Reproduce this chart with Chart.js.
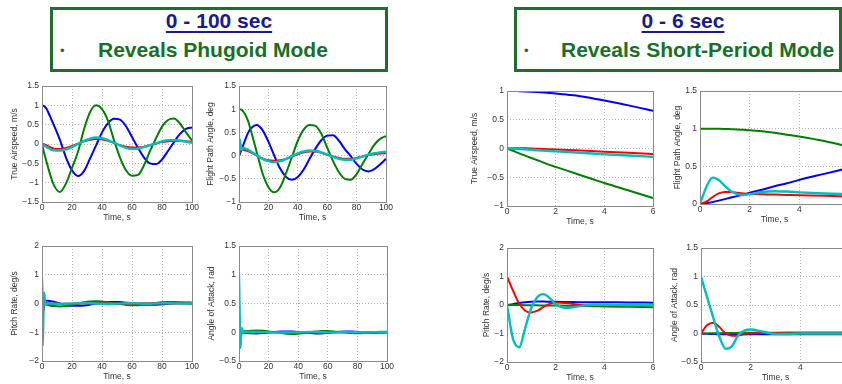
<!DOCTYPE html>
<html>
<head>
<meta charset="utf-8">
<script src="https://cdn.jsdelivr.net/npm/chart.js@4.4.0/dist/chart.umd.min.js"></script>
<style>
html, body { margin: 0; padding: 0; background: #fff; width: 842px; height: 384px; overflow: hidden; font-family: "Liberation Sans", Arial, sans-serif; }
.box { position: absolute; border: 3px solid #1f6e2c; box-sizing: border-box; }
.ttl { position: absolute; color: #1b1b8a; font-weight: bold; font-size: 21px; line-height: 21px; text-decoration: underline; text-decoration-thickness: 2px; text-underline-offset: 3px; white-space: nowrap; text-align: center; }
.sub { position: absolute; color: #177026; font-weight: bold; font-size: 21px; line-height: 21px; white-space: nowrap; }
.dot { position: absolute; color: #177026; font-size: 13px; line-height: 13px; }
.plot { position: absolute; }
</style>
</head>
<body>
<div class="box" style="left:50px;top:7px;width:338px;height:65px"></div>
<div class="ttl" style="left:50px;top:10px;width:338px">0 - 100 sec</div>
<div class="dot" style="left:60px;top:44px">•</div>
<div class="sub" style="left:98px;top:39px">Reveals Phugoid Mode</div>

<div class="box" style="left:514px;top:7px;width:328px;height:65px"></div>
<div class="ttl" style="left:583px;top:10px;width:200px">0 - 6 sec</div>
<div class="dot" style="left:524px;top:44px">•</div>
<div class="sub" style="left:561px;top:39px">Reveals Short-Period Mode</div>

<div class="plot" style="left:0px;top:80px;width:200px;height:152px"><canvas id="c1"></canvas></div>
<div class="plot" style="left:197px;top:80px;width:197px;height:152px"><canvas id="c2"></canvas></div>
<div class="plot" style="left:0px;top:240px;width:200px;height:151px"><canvas id="c3"></canvas></div>
<div class="plot" style="left:197px;top:240px;width:198px;height:151px"><canvas id="c4"></canvas></div>
<div class="plot" style="left:465px;top:85px;width:196px;height:151px"><canvas id="c5"></canvas></div>
<div class="plot" style="left:658px;top:85px;width:199px;height:149px"><canvas id="c6"></canvas></div>
<div class="plot" style="left:465px;top:242px;width:196px;height:150px"><canvas id="c7"></canvas></div>
<div class="plot" style="left:659px;top:242px;width:199px;height:150px"><canvas id="c8"></canvas></div>

<script>
// time bases
const tLong = [0, 0.5, 1, 1.5, 2, 3, 4, 6, 8, 12, 16, 20, 24, 28, 32, 36, 40, 44, 48, 52, 56, 60, 64, 68, 72, 76, 80, 84, 88, 92, 96, 100];
const tShort = [0, 0.25, 0.5, 0.75, 1, 1.25, 1.5, 1.75, 2, 2.5, 3, 3.5, 4, 5, 6];

// series: blue = initial u, green = initial gamma, red = initial q, cyan = initial alpha
const seriesNames = ['u(0) = 1', 'gamma(0) = 1', 'q(0) = 1', 'alpha(0) = 1'];

// 0 - 100 s : true airspeed
const uLongBlue  = [1.0, 0.999, 0.988, 0.975, 0.958, 0.91, 0.835, 0.655, 0.48, 0.1, -0.35, -0.68, -0.83, -0.7, -0.38, -0.04, 0.3, 0.54, 0.65, 0.63, 0.46, 0.18, -0.1, -0.35, -0.5, -0.52, -0.4, -0.18, 0.05, 0.26, 0.39, 0.43];
const uLongGreen = [0, -0.085, -0.165, -0.245, -0.32, -0.46, -0.6, -0.86, -1.07, -1.24, -1.02, -0.62, -0.2, 0.38, 0.82, 1.0, 0.9, 0.6, 0.1, -0.35, -0.68, -0.82, -0.8, -0.55, -0.18, 0.15, 0.45, 0.62, 0.66, 0.53, 0.3, 0.09];
const uLongRed   = [0, 0.004, 0.0, -0.008, -0.016, -0.035, -0.055, -0.095, -0.12, -0.13, -0.1, -0.05, 0.01, 0.07, 0.11, 0.13, 0.12, 0.08, 0.03, -0.03, -0.07, -0.09, -0.09, -0.07, -0.03, 0.01, 0.05, 0.07, 0.08, 0.08, 0.07, 0.06];
const uLongCyan  = [0, -0.008, -0.022, -0.037, -0.05, -0.075, -0.1, -0.145, -0.165, -0.17, -0.14, -0.08, 0, 0.08, 0.14, 0.17, 0.15, 0.1, 0.03, -0.04, -0.1, -0.13, -0.12, -0.08, -0.03, 0.02, 0.07, 0.1, 0.1, 0.09, 0.06, 0.03];

// 0 - 100 s : flight path angle
const gLongBlue  = [0, 0.025, 0.065, 0.105, 0.15, 0.235, 0.32, 0.48, 0.58, 0.66, 0.55, 0.3, 0.0, -0.28, -0.46, -0.52, -0.46, -0.3, -0.07, 0.15, 0.33, 0.43, 0.44, 0.32, 0.14, -0.01, -0.18, -0.3, -0.34, -0.29, -0.19, -0.07];
const gLongGreen = [1.0, 0.999, 0.996, 0.99, 0.98, 0.945, 0.895, 0.76, 0.55, 0.08, -0.38, -0.68, -0.79, -0.68, -0.38, -0.03, 0.32, 0.56, 0.66, 0.64, 0.47, 0.17, -0.12, -0.36, -0.5, -0.52, -0.4, -0.18, 0.03, 0.23, 0.36, 0.42];
const gLongRed   = [0, 0.09, 0.16, 0.15, 0.135, 0.125, 0.115, 0.1, 0.07, 0.0, -0.06, -0.1, -0.11, -0.1, -0.07, -0.02, 0.03, 0.07, 0.09, 0.09, 0.06, 0.02, -0.02, -0.05, -0.07, -0.07, -0.05, -0.02, 0.01, 0.03, 0.045, 0.05];
const gLongCyan  = [0, 0.35, 0.24, 0.13, 0.13, 0.17, 0.155, 0.13, 0.09, 0.01, -0.07, -0.12, -0.14, -0.12, -0.07, -0.01, 0.05, 0.09, 0.11, 0.1, 0.07, 0.02, -0.03, -0.07, -0.09, -0.09, -0.06, -0.02, 0.02, 0.05, 0.07, 0.08];

// 0 - 100 s : pitch rate
const qLongBlue  = [0, 0.07, 0.115, 0.12, 0.11, 0.1, 0.095, 0.08, 0.06, 0.0, -0.05, -0.075, -0.08, -0.07, -0.04, 0.0, 0.03, 0.05, 0.055, 0.05, 0.03, 0.01, -0.02, -0.04, -0.045, -0.04, -0.03, -0.01, 0.01, 0.03, 0.035, 0.03];
const qLongGreen = [0, -0.003, -0.01, -0.015, -0.02, -0.035, -0.05, -0.08, -0.09, -0.1, -0.09, -0.06, -0.01, 0.04, 0.07, 0.08, 0.07, 0.04, 0.01, -0.02, -0.05, -0.065, -0.06, -0.04, -0.01, 0.02, 0.04, 0.05, 0.05, 0.04, 0.02, 0.0];
const qLongRed   = [1.0, 0.05, -0.26, -0.07, 0.09, 0.0, 0.0, 0.0, -0.005, -0.01, -0.01, -0.005, 0, 0.005, 0.01, 0.01, 0.005, 0, -0.005, -0.01, -0.01, -0.005, 0, 0.005, 0.01, 0.01, 0.005, 0, 0, 0, 0, 0];
const qLongCyan  = [0, -1.48, -0.1, 0.38, 0.03, -0.04, 0.01, 0, -0.01, -0.015, -0.01, 0, 0.01, 0.015, 0.01, 0, -0.01, -0.015, -0.01, 0, 0.01, 0.01, 0, -0.01, -0.01, 0, 0.005, 0.01, 0.005, 0, 0, 0];

// 0 - 100 s : angle of attack
const aLongBlue  = [0, -0.01, -0.015, -0.015, -0.015, -0.015, -0.015, -0.015, -0.018, -0.02, -0.015, -0.005, 0.005, 0.012, 0.015, 0.012, 0.005, -0.005, -0.015, -0.02, -0.02, -0.012, -0.002, 0.008, 0.012, 0.012, 0.006, -0.002, -0.01, -0.012, -0.008, -0.002];
const aLongGreen = [0, 0.004, 0.008, 0.011, 0.013, 0.015, 0.017, 0.02, 0.025, 0.03, 0.025, 0.015, 0, -0.015, -0.025, -0.03, -0.025, -0.015, 0, 0.012, 0.02, 0.02, 0.015, 0.005, -0.005, -0.015, -0.018, -0.015, -0.005, 0.005, 0.01, 0.01];
const aLongRed   = [0, 0.19, 0.0, -0.035, 0.005, 0.005, 0, 0, 0, 0.002, 0.003, 0.002, 0, -0.002, -0.003, -0.002, 0, 0.002, 0.003, 0.002, 0, -0.002, -0.002, 0, 0.002, 0.002, 0, -0.001, 0, 0, 0, 0];
const aLongCyan  = [1.0, 0.27, -0.27, -0.03, 0.07, -0.01, 0, 0.005, 0.005, 0.004, 0.002, 0, -0.003, -0.005, -0.004, -0.002, 0, 0.003, 0.004, 0.003, 0, -0.003, -0.003, 0, 0.002, 0.003, 0.002, 0, -0.002, 0, 0, 0];

// 0 - 6 s
const uShortBlue  = [1.0, 1.0, 0.997, 0.993, 0.988, 0.982, 0.975, 0.967, 0.958, 0.935, 0.91, 0.875, 0.835, 0.75, 0.655];
const uShortGreen = [0, -0.04, -0.085, -0.125, -0.165, -0.205, -0.245, -0.285, -0.32, -0.39, -0.46, -0.53, -0.6, -0.73, -0.86];
const uShortRed   = [0, 0.003, 0.004, 0.003, 0.0, -0.004, -0.008, -0.012, -0.016, -0.025, -0.035, -0.045, -0.055, -0.075, -0.095];
const uShortCyan  = [0, -0.003, -0.008, -0.015, -0.022, -0.03, -0.037, -0.044, -0.05, -0.062, -0.075, -0.088, -0.1, -0.123, -0.145];

const gShortBlue  = [0, 0.01, 0.025, 0.045, 0.065, 0.085, 0.105, 0.125, 0.15, 0.19, 0.235, 0.275, 0.32, 0.4, 0.48];
const gShortGreen = [1.0, 1.0, 0.999, 0.998, 0.996, 0.993, 0.99, 0.985, 0.98, 0.965, 0.945, 0.92, 0.895, 0.835, 0.76];
const gShortRed   = [0, 0.03, 0.09, 0.14, 0.16, 0.16, 0.15, 0.14, 0.135, 0.13, 0.125, 0.12, 0.115, 0.11, 0.1];
const gShortCyan  = [0, 0.22, 0.35, 0.32, 0.24, 0.17, 0.13, 0.12, 0.13, 0.16, 0.17, 0.165, 0.155, 0.14, 0.13];

const qShortBlue  = [0, 0.03, 0.07, 0.1, 0.115, 0.12, 0.12, 0.115, 0.11, 0.105, 0.1, 0.1, 0.095, 0.09, 0.08];
const qShortGreen = [0, 0, -0.003, -0.006, -0.01, -0.012, -0.015, -0.017, -0.02, -0.027, -0.035, -0.042, -0.05, -0.065, -0.08];
const qShortRed   = [1.0, 0.5, 0.05, -0.2, -0.26, -0.2, -0.07, 0.04, 0.09, 0.06, 0.0, -0.01, 0, 0, 0];
const qShortCyan  = [0, -1.2, -1.48, -0.8, -0.1, 0.28, 0.38, 0.25, 0.03, -0.1, -0.04, 0.01, 0.01, 0, 0];

const aShortBlue  = [0, -0.005, -0.01, -0.012, -0.014, -0.015, -0.015, -0.015, -0.015, -0.015, -0.015, -0.015, -0.015, -0.015, -0.015];
const aShortGreen = [0, 0.002, 0.004, 0.006, 0.008, 0.01, 0.011, 0.012, 0.013, 0.014, 0.015, 0.016, 0.017, 0.018, 0.02];
const aShortRed   = [0, 0.15, 0.19, 0.11, 0.0, -0.04, -0.035, -0.01, 0.005, 0.01, 0.005, 0, 0, 0, 0];
const aShortCyan  = [1.0, 0.63, 0.27, -0.07, -0.27, -0.22, -0.03, 0.05, 0.07, 0.03, -0.01, -0.01, 0, 0, 0];

// tick labels
const xTicksLong = [0, 20, 40, 60, 80, 100];
const xTicksShort = [0, 2, 4, 6];
const yTicksULong = [-1.5, -1, -0.5, 0, 0.5, 1, 1.5];
const yTicksGLong = [-1, -0.5, 0, 0.5, 1, 1.5];
const yTicksQ = [-2, -1, 0, 1, 2];
const yTicksA = [-0.5, 0, 0.5, 1, 1.5];
const yTicksUShort = [-1, -0.5, 0, 0.5, 1];
const yTicksGShort = [0, 0.5, 1, 1.5];

const colors = ['#0000ff', '#008000', '#ff0000', '#00bfbf'];
const font = { family: '"Liberation Sans", Arial, sans-serif', size: 8.5 };

// matlab style box round the axes
const axesBox = {
    id: 'axesBox',
    afterDatasetsDraw(chart) {
        const a = chart.chartArea;
        const ctx = chart.ctx;
        ctx.save();
        ctx.strokeStyle = '#8a8a8a';
        ctx.lineWidth = 1;
        ctx.strokeRect(Math.round(a.left) + 0.5, Math.round(a.top) + 0.5, Math.round(a.right - a.left), Math.round(a.bottom - a.top));
        ctx.restore();
    }
};

function setTicks(values) {
    return function (scale) {
        scale.ticks = values.map(v => ({ value: v }));
    };
}

function drawPlot(id, t, series, yTitle, xTicks, yTicks, titlePad) {
    const datasets = series.map((vals, k) => ({
        label: seriesNames[k],
        data: vals.map((v, i) => ({ x: t[i], y: v })),
        borderColor: colors[k],
        borderWidth: k === 3 ? 2.4 : 2,
        pointRadius: 0,
        cubicInterpolationMode: 'monotone'
    })).reverse(); // first dataset is drawn last, cyan on top like matlab

    new Chart(document.getElementById(id), {
        type: 'line',
        data: { datasets: datasets },
        plugins: [axesBox],
        options: {
            responsive: true,
            maintainAspectRatio: false,
            animation: false,
            events: [],
            layout: { padding: { top: 6, right: 8, left: 0, bottom: 0 } },
            plugins: {
                legend: { display: false },
                tooltip: { enabled: false }
            },
            scales: {
                x: {
                    type: 'linear',
                    min: xTicks[0],
                    max: xTicks[xTicks.length - 1],
                    afterBuildTicks: setTicks(xTicks),
                    afterFit(scale) {
                        scale.height = 30;
                        scale.paddingLeft = 0;
                        scale.paddingRight = 0;
                    },
                    grid: { color: '#b4b4b4', drawTicks: false },
                    border: { display: false, dash: [1, 2] },
                    ticks: { padding: 1, color: '#333', font: font, maxRotation: 0 },
                    title: { display: true, text: 'Time, s', color: '#333', font: font, padding: { top: 0, bottom: 9.5 } }
                },
                y: {
                    min: yTicks[0],
                    max: yTicks[yTicks.length - 1],
                    afterBuildTicks: setTicks(yTicks),
                    afterFit(scale) {
                        scale.width = 42;
                        scale.paddingTop = 0;
                        scale.paddingBottom = 0;
                    },
                    grid: { color: '#b4b4b4', drawTicks: false },
                    border: { display: false, dash: [1, 2] },
                    ticks: {
                        padding: 3,
                        color: '#333',
                        font: font,
                        callback: v => String(v).replace('-', '\u2212')
                    },
                    title: { display: true, text: yTitle, color: '#333', font: font, padding: { top: titlePad, bottom: 0 } }
                }
            }
        }
    });
}

drawPlot('c1', tLong, [uLongBlue, uLongGreen, uLongRed, uLongCyan], 'True Airspeed, m/s', xTicksLong, yTicksULong, 10);
drawPlot('c2', tLong, [gLongBlue, gLongGreen, gLongRed, gLongCyan], 'Flight Path Angle, deg', xTicksLong, yTicksGLong, 8.5);
drawPlot('c3', tLong, [qLongBlue, qLongGreen, qLongRed, qLongCyan], 'Pitch Rate, deg/s', xTicksLong, yTicksQ, 10);
drawPlot('c4', tLong, [aLongBlue, aLongGreen, aLongRed, aLongCyan], 'Angle of Attack, rad', xTicksLong, yTicksA, 9.5);
drawPlot('c5', tShort, [uShortBlue, uShortGreen, uShortRed, uShortCyan], 'True Airspeed, m/s', xTicksShort, yTicksUShort, 5);
drawPlot('c6', tShort, [gShortBlue, gShortGreen, gShortRed, gShortCyan], 'Flight Path Angle, deg', xTicksShort, yTicksGShort, 15);
drawPlot('c7', tShort, [qShortBlue, qShortGreen, qShortRed, qShortCyan], 'Pitch Rate, deg/s', xTicksShort, yTicksQ, 16.5);
drawPlot('c8', tShort, [aShortBlue, aShortGreen, aShortRed, aShortCyan], 'Angle of Attack, rad', xTicksShort, yTicksA, 11);
</script>
</body>
</html>
